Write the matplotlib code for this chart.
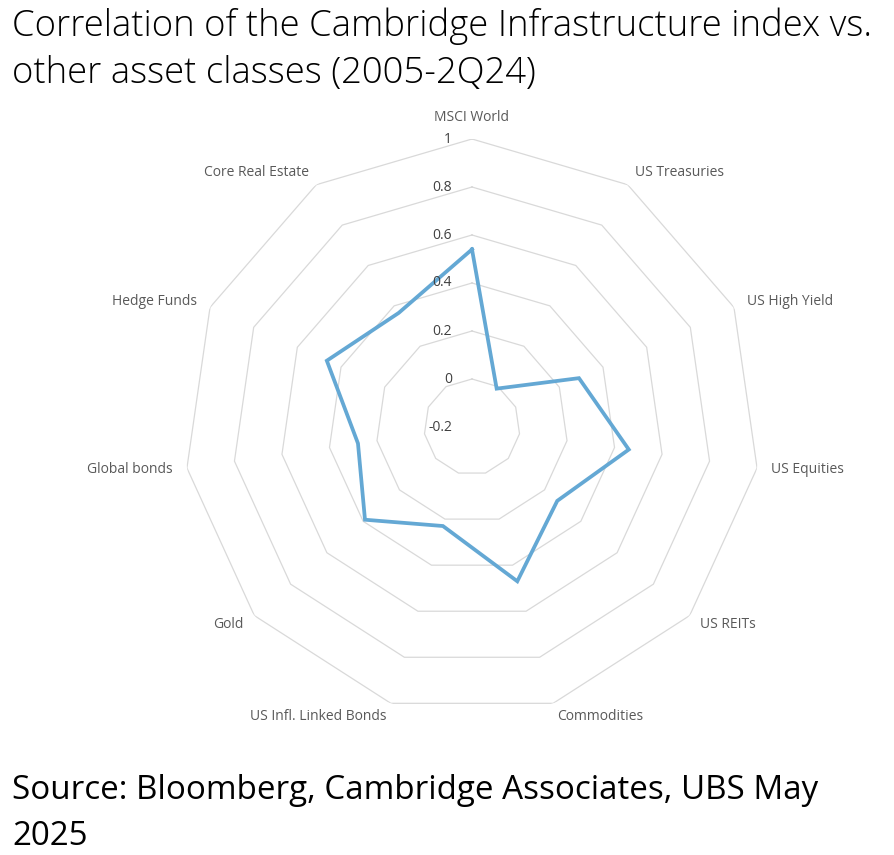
import numpy as np
import matplotlib.pyplot as plt

# correlation of the Cambridge Infrastructure index with each asset class
categories = ['MSCI World', 'US Treasuries', 'US High Yield', 'US Equities',
              'US REITs', 'Commodities', 'US Infl. Linked Bonds', 'Gold',
              'Global bonds', 'Hedge Funds', 'Core Real Estate']
correlations = [0.54, -0.01, 0.29, 0.46, 0.27, 0.47, 0.23, 0.39, 0.28, 0.465, 0.365]

r_min, r_max = -0.2, 1.0
ring_values = [0.0, 0.2, 0.4, 0.6, 0.8, 1.0]
tick_values = [-0.2, 0.0, 0.2, 0.4, 0.6, 0.8, 1.0]
tick_labels = ['-0.2', '0', '0.2', '0.4', '0.6', '0.8', '1']

title = 'Correlation of the Cambridge Infrastructure index vs.\nother asset classes (2005-2Q24)'
source = 'Source: Bloomberg, Cambridge Associates, UBS May\n2025'

plt.rcParams['font.family'] = ['Open Sans', 'DejaVu Sans']

W, H = 894, 855
fig = plt.figure(figsize=(W / 100, H / 100), dpi=100)
fig.patch.set_facecolor('white')

# centre of the web at (472, 427) px, outer ring radius 288 px
cx, cy, rad = 472, 427, 288
ax = fig.add_axes([(cx - rad) / W, (H - cy - rad) / H, 2 * rad / W, 2 * rad / H],
                  projection='polar')
ax.set_theta_zero_location('N')
ax.set_theta_direction(-1)
ax.set_ylim(r_min, r_max)
ax.grid(False)
ax.spines['polar'].set_visible(False)
ax.set_xticks([])
ax.set_yticks([])
ax.patch.set_visible(False)

theta = np.linspace(0, 2 * np.pi, len(categories), endpoint=False)
closed = np.append(theta, theta[0])

for v in ring_values:
    ax.plot(closed, [v] * len(closed), color='#d9d9d9', lw=0.9, zorder=1)

vals = correlations + [correlations[0]]
ax.plot(closed, vals, color='#64a8d4', lw=2.7, zorder=3, solid_joinstyle='miter')

# radial tick labels, left of the vertical axis
for v, lab in zip(tick_values, tick_labels):
    ax.annotate(lab, xy=(0, v), xytext=(-20, 0), textcoords='offset pixels',
                ha='right', va='center', fontsize=10, color='#404040', zorder=4)

# category labels just outside the outer ring
for i, (t, name) in enumerate(zip(theta, categories)):
    s, c = np.sin(t), np.cos(t)
    pad = 22 if i == 0 else 14
    if s > 0.1:
        ha = 'left'
    elif s < -0.1:
        ha = 'right'
    else:
        ha = 'center'
    ax.annotate(name, xy=(t, r_max), xytext=(pad * s, pad * c),
                textcoords='offset pixels', ha=ha, va='center',
                fontsize=10, color='#595959', annotation_clip=False)

# multi-line text with va='baseline' sits on the baseline of its last line
fig.text(12 / W, 1 - 83 / H, title, ha='left', va='baseline',
         fontsize=26.3, fontweight='light', color='black', linespacing=1.34)
fig.text(12 / W, 1 - 845 / H, source, ha='left', va='baseline',
         fontsize=23.9, color='black', linespacing=1.51)

fig.savefig('out.png', dpi=100)
